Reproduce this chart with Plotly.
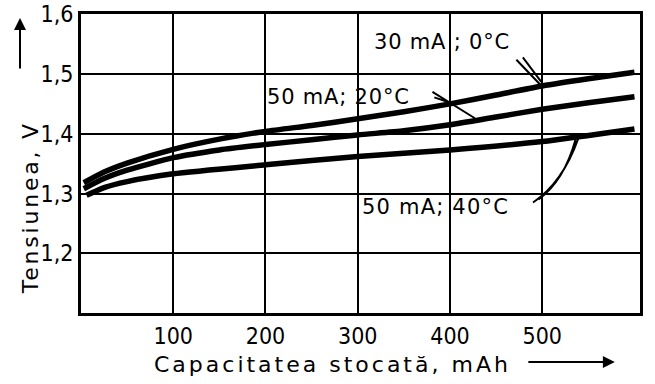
import plotly.graph_objects as go

# Charging voltage vs. stored capacity for three current / temperature conditions
capacity_a = [3, 25, 50, 100, 150, 200, 250, 300, 350, 400, 450, 500, 550, 600]
volt_30ma_0c = [1.318, 1.336, 1.351, 1.374, 1.391, 1.404, 1.414, 1.425, 1.437, 1.450,
                1.465, 1.480, 1.492, 1.503]
volt_50ma_20c = [1.308, 1.325, 1.339, 1.360, 1.373, 1.382, 1.390, 1.398, 1.405, 1.415,
                 1.428, 1.441, 1.452, 1.462]

capacity_b = [6, 25, 50, 100, 200, 300, 400, 500, 600]
volt_50ma_40c = [1.297, 1.310, 1.320, 1.333, 1.348, 1.362, 1.373, 1.387, 1.408]

x_ticks = [100, 200, 300, 400, 500]
y_ticks = [1.2, 1.3, 1.4, 1.5, 1.6]
y_tick_text = ["1,2", "1,3", "1,4", "1,5", "1,6"]

labels = ["30 mA ; 0°C", "50 mA; 20°C", "50 mA; 40°C"]
x_title = "Capacitatea stocată, mAh"
y_title = "Tensiunea, V"

TICK_FONT = "Liberation Sans Narrow, DejaVu Sans Condensed, DejaVu Sans, sans-serif"
TEXT_FONT = "DejaVu Sans, sans-serif"


def spaced(txt, px):
    return f'<span style="letter-spacing:{px}px">{txt}</span>'


fig = go.Figure()
curve_style = dict(color="black", width=5.5, shape="spline", smoothing=0.6)
for xs, ys, name in [(capacity_a, volt_30ma_0c, labels[0]),
                     (capacity_a, volt_50ma_20c, labels[1]),
                     (capacity_b, volt_50ma_40c, labels[2])]:
    fig.add_trace(go.Scatter(x=xs, y=ys, mode="lines", line=curve_style,
                             name=name, showlegend=False, hoverinfo="skip"))

# Curve captions
cap_font = dict(family=TEXT_FONT, size=21, color="black")
fig.add_annotation(x=316, y=1.553, text=spaced(labels[0], 0.8), xanchor="left",
                   yanchor="middle", showarrow=False, font=cap_font)
fig.add_annotation(x=200, y=1.462, text=spaced(labels[1], 0.8), xanchor="left",
                   yanchor="middle", showarrow=False, font=cap_font)
fig.add_annotation(x=302, y=1.277, text=spaced(labels[2], 1.2), xanchor="left",
                   yanchor="middle", showarrow=False, font=cap_font)

# Double-stroke leader lines from captions to curves
lead = dict(color="black", width=2)
fig.add_shape(type="path", xref="x", yref="y", line=lead,
              path="M 472 1.524 L 498 1.482 M 479 1.528 L 499 1.487")
fig.add_shape(type="path", xref="x", yref="y", line=lead,
              path="M 381 1.470 L 427 1.426 M 383 1.461 L 406 1.449")
fig.add_shape(type="path", xref="x", yref="y", line=lead,
              path="M 490 1.285 Q 522 1.318 539 1.392 M 496 1.290 Q 524 1.322 536 1.390")

# Axis titles with direction arrows
fig.add_annotation(xref="paper", yref="paper", x=0.5, y=0, yshift=-51, xshift=-28,
                   text=spaced(x_title, 3), showarrow=False, xanchor="center",
                   yanchor="middle", font=dict(family=TEXT_FONT, size=22, color="black"))
fig.add_annotation(xref="paper", yref="paper", x=0, y=0.35, xshift=-51,
                   text=spaced(y_title, 2.8), textangle=-90, showarrow=False,
                   xanchor="center", yanchor="middle",
                   font=dict(family=TEXT_FONT, size=22, color="black"))
fig.add_annotation(xref="paper", yref="paper", x=0.955, y=0, yshift=-49,
                   ax=-88, ay=0, text="", showarrow=True, arrowhead=2,
                   arrowsize=1.2, arrowwidth=2, arrowcolor="black")
fig.add_annotation(xref="paper", yref="paper", x=0, y=1, xshift=-61, yshift=-4,
                   ax=0, ay=52, text="", showarrow=True, arrowhead=2,
                   arrowsize=1.2, arrowwidth=2, arrowcolor="black")

axis_common = dict(showline=True, linecolor="black", linewidth=3, mirror=True,
                   showgrid=True, gridcolor="black", gridwidth=2, zeroline=False,
                   automargin=False, ticks="",
                   tickfont=dict(family=TICK_FONT, size=23, color="black"))
fig.update_xaxes(range=[0, 606], tickvals=x_ticks, **axis_common)
fig.update_yaxes(range=[1.1, 1.6005], tickvals=y_ticks, ticktext=y_tick_text, **axis_common)

fig.update_layout(width=655, height=384, margin=dict(l=81, r=15, t=14, b=71),
                  plot_bgcolor="white", paper_bgcolor="white")
fig.write_html("out.html")
